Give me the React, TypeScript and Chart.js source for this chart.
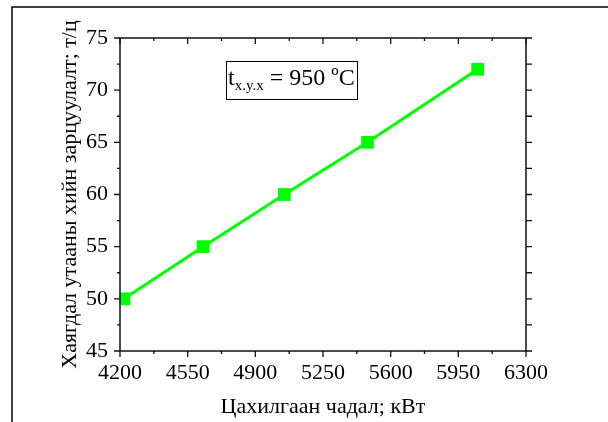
import React, { useEffect, useRef } from "react";
import { Chart, registerables } from "chart.js";

Chart.register(...registerables);

const xValues = [4220, 4630, 5050, 5480, 6050];
const yValues = [50, 55, 60, 65, 72];
const xTicks = [4200, 4550, 4900, 5250, 5600, 5950, 6300];
const yTicks = [45, 50, 55, 60, 65, 70, 75];
const xMinorTicks = [4375, 4725, 5075, 5425, 5775, 6125];
const yMinorTicks = [47.5, 52.5, 57.5, 62.5, 67.5, 72.5];
const xTitle = "Цахилгаан чадал; кВт";
const yTitle = "Хаягдал утааны хийн зарцуулалт; т/ц";
const noteMain = "t";
const noteSub = "x.y.x";
const noteRest = " = 950 ºC";

const FONT = "'Liberation Serif', 'Times New Roman', serif";
const GREEN = "#00ff00";

const framePlugin = {
  id: "framePlugin",
  afterDraw(chart: any) {
    const ctx = chart.ctx as CanvasRenderingContext2D;
    const { left, right, top, bottom } = chart.chartArea;
    const xs = chart.scales.x;
    const ys = chart.scales.y;
    ctx.save();
    // outer frame (top and left)
    ctx.strokeStyle = "#000";
    ctx.lineWidth = 1.5;
    ctx.beginPath();
    ctx.moveTo(12, 422);
    ctx.lineTo(12, 7);
    ctx.lineTo(608, 7);
    ctx.stroke();

    // axes box
    ctx.lineWidth = 1.5;
    ctx.strokeStyle = "#111";
    ctx.strokeRect(left, top, right - left, bottom - top);

    // ticks
    ctx.lineWidth = 1.3;
    ctx.beginPath();
    xTicks.forEach((v) => {
      const px = xs.getPixelForValue(v);
      ctx.moveTo(px, bottom);
      ctx.lineTo(px, bottom + 6);
      ctx.moveTo(px, top);
      ctx.lineTo(px, top + 6);
    });
    xMinorTicks.forEach((v) => {
      const px = xs.getPixelForValue(v);
      ctx.moveTo(px, bottom);
      ctx.lineTo(px, bottom + 3);
      ctx.moveTo(px, top);
      ctx.lineTo(px, top + 3);
    });
    yTicks.forEach((v) => {
      const py = ys.getPixelForValue(v);
      ctx.moveTo(left, py);
      ctx.lineTo(left - 6, py);
      ctx.moveTo(right, py);
      ctx.lineTo(right + 6, py);
    });
    yMinorTicks.forEach((v) => {
      const py = ys.getPixelForValue(v);
      ctx.moveTo(left, py);
      ctx.lineTo(left - 3, py);
      ctx.moveTo(right, py);
      ctx.lineTo(right + 6, py);
    });
    ctx.stroke();

    // annotation box
    const bx = 226, by = 61, bw = 131, bh = 38;
    ctx.lineWidth = 1;
    ctx.strokeStyle = "#000";
    ctx.strokeRect(bx + 0.5, by + 0.5, bw, bh);
    ctx.fillStyle = "#000";
    ctx.textBaseline = "alphabetic";
    ctx.textAlign = "left";
    let tx = bx + 2;
    const base = 85;
    ctx.font = `24px ${FONT}`;
    ctx.fillText(noteMain, tx, base);
    tx += ctx.measureText(noteMain).width;
    ctx.font = `15px ${FONT}`;
    ctx.fillText(noteSub, tx, base + 5);
    tx += ctx.measureText(noteSub).width;
    ctx.font = `24px ${FONT}`;
    ctx.fillText(noteRest, tx, base);
    ctx.restore();
  },
};

export default function App() {
  const canvasRef = useRef<HTMLCanvasElement | null>(null);

  useEffect(() => {
    if (!canvasRef.current) return;
    const chart = new Chart(canvasRef.current, {
      type: "line",
      data: {
        datasets: [
          {
            data: xValues.map((x, i) => ({ x, y: yValues[i] })),
            borderColor: GREEN,
            backgroundColor: GREEN,
            borderWidth: 3,
            pointStyle: "rect",
            pointRadius: 9,
            pointHoverRadius: 9,
            pointBorderWidth: 0,
            tension: 0,
          },
        ],
      },
      options: {
        animation: false,
        responsive: false,
        maintainAspectRatio: false,
        events: [],
        layout: { padding: { left: 0, right: 82, top: 38, bottom: 0 } },
        plugins: {
          legend: { display: false },
          tooltip: { enabled: false },
        },
        scales: {
          x: {
            type: "linear",
            min: 4200,
            max: 6300,
            afterBuildTicks: (scale: any) => {
              scale.ticks = xTicks.map((v) => ({ value: v }));
            },
            afterFit: (scale: any) => {
              scale.height = 71;
            },
            grid: { display: false, drawTicks: false },
            border: { display: false },
            ticks: {
              color: "#000",
              padding: 9,
              maxRotation: 0,
              autoSkip: false,
              font: { family: FONT, size: 22 },
              callback: (v: any) => String(v),
            },
            title: {
              display: true,
              text: xTitle,
              color: "#000",
              font: { family: FONT, size: 22 },
              padding: { top: 0, bottom: 2 },
            },
          },
          y: {
            type: "linear",
            min: 45,
            max: 75,
            afterBuildTicks: (scale: any) => {
              scale.ticks = yTicks.map((v) => ({ value: v }));
            },
            afterFit: (scale: any) => {
              scale.width = 120;
            },
            grid: { display: false, drawTicks: false },
            border: { display: false },
            ticks: {
              color: "#000",
              padding: 12,
              autoSkip: false,
              font: { family: FONT, size: 22 },
              callback: (v: any) => String(v),
            },
            title: {
              display: true,
              text: yTitle,
              color: "#000",
              font: { family: FONT, size: 22 },
              padding: { top: 57, bottom: 0 },
            },
          },
        },
      },
      plugins: [framePlugin],
    });
    return () => chart.destroy();
  }, []);

  return (
    <div style={{ position: "fixed", left: 0, top: 0, width: 608, height: 422, background: "#fff" }}>
      <canvas ref={canvasRef} width={608} height={422} style={{ display: "block", width: 608, height: 422 }} />
    </div>
  );
}
